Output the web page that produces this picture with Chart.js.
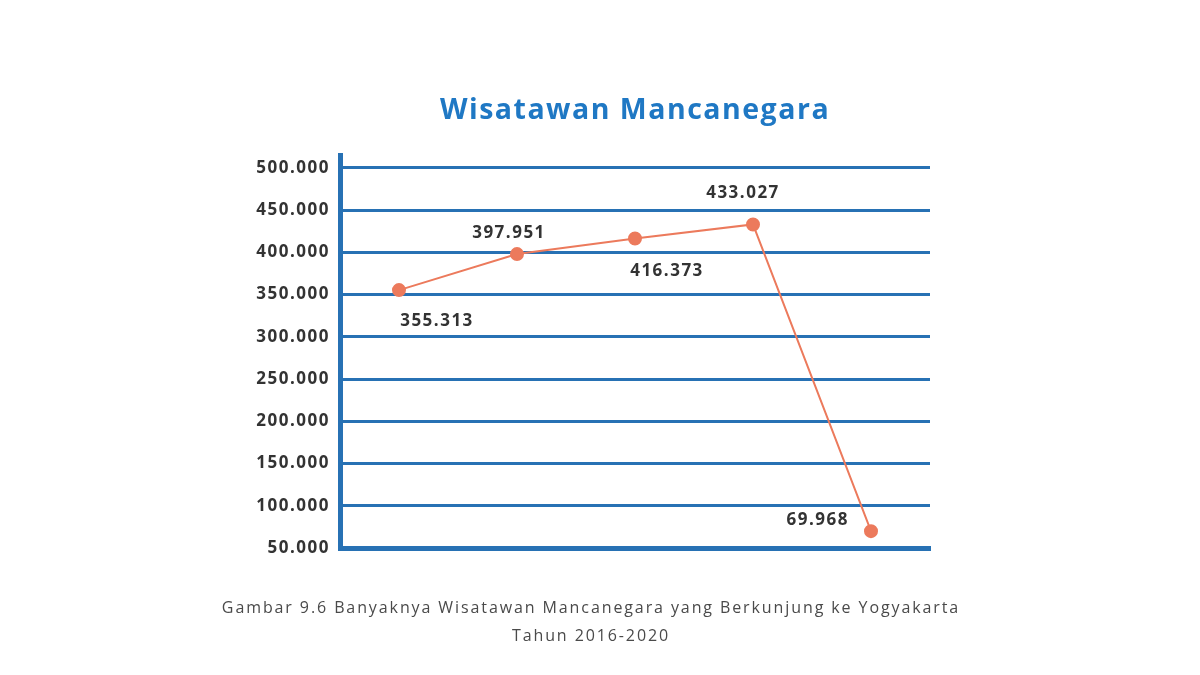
<!DOCTYPE html>
<html>
<head>
<meta charset="utf-8">
<script src="https://cdn.jsdelivr.net/npm/chart.js@4"></script>
<style>
  html, body { margin: 0; padding: 0; background: #fff; }
  #wrap { width: 1200px; height: 675px; }
</style>
</head>
<body>
<div id="wrap"><canvas id="wisatawanChart" width="1200" height="675"></canvas></div>
<script>
const years = ['2016', '2017', '2018', '2019', '2020'];
const visitors = [355313, 397951, 416373, 433027, 69968];
const yTicks = [50000, 100000, 150000, 200000, 250000, 300000, 350000, 400000, 450000, 500000];
const captionLines = ['Gambar 9.6 Banyaknya Wisatawan Mancanegara yang Berkunjung ke Yogyakarta', 'Tahun 2016-2020'];

const BLUE = '#2771b4';
const ORANGE = '#ec7a5c';

const fmt = v => v.toLocaleString('de-DE');

// the original picture has wide, spaced-out lettering
const wideText = {
    id: 'wideText',
    beforeDraw(chart) { chart.ctx.letterSpacing = '1.5px'; },
    afterDraw(chart) { chart.ctx.letterSpacing = '0px'; }
};

// draws the value next to each point
const pointLabels = {
    id: 'pointLabels',
    afterDatasetsDraw(chart, args, opts) {
        const ctx = chart.ctx;
        const meta = chart.getDatasetMeta(0);
        ctx.save();
        ctx.font = 'bold 17px "Open Sans"';
        ctx.fillStyle = '#333';
        ctx.textBaseline = 'middle';
        meta.data.forEach((pt, i) => {
            const [dx, dy, align] = opts.offsets[i];
            ctx.textAlign = align;
            ctx.fillText(fmt(visitors[i]), pt.x + dx, pt.y + dy);
        });
        ctx.restore();
    }
};

// figure caption under the plot
const caption = {
    id: 'caption',
    afterDraw(chart, args, opts) {
        const ctx = chart.ctx;
        ctx.save();
        ctx.letterSpacing = '1.9px';
        ctx.font = '16px "Open Sans"';
        ctx.fillStyle = '#4a4a4a';
        ctx.textAlign = 'center';
        ctx.textBaseline = 'middle';
        captionLines.forEach((line, i) => {
            ctx.fillText(line, opts.x, chart.chartArea.bottom + opts.top + i * opts.lineHeight);
        });
        ctx.restore();
    }
};

new Chart(document.getElementById('wisatawanChart'), {
    type: 'line',
    data: {
        labels: years,
        datasets: [{
            label: 'Wisatawan Mancanegara',
            data: visitors,
            borderColor: ORANGE,
            backgroundColor: ORANGE,
            borderWidth: 2,
            pointRadius: 6,
            pointHoverRadius: 6,
            tension: 0
        }]
    },
    options: {
        responsive: false,
        animation: false,
        layout: { padding: { top: 93, left: 250, right: 270, bottom: 117 } },
        plugins: {
            legend: { display: false },
            tooltip: { enabled: false },
            title: {
                display: true,
                text: 'Wisatawan Mancanegara',
                fullSize: false,
                color: '#1f78c4',
                font: { family: 'Open Sans', size: 28.5, weight: 'bold' },
                padding: { top: 1, bottom: 27 }
            },
            pointLabels: {
                offsets: [[38, 31, 'center'], [-8, -21, 'center'], [32, 33, 'center'], [-10, -31, 'center'], [-22, -11, 'right']]
            },
            caption: { x: 591, top: 60, lineHeight: 28 }
        },
        scales: {
            x: {
                offset: true,
                grid: { display: false },
                ticks: { display: false },
                border: { display: true, color: BLUE, width: 5 },
                afterFit(scale) { scale.height = 10; }
            },
            y: {
                min: 50000,
                max: 515000,
                afterBuildTicks(scale) { scale.ticks = yTicks.map(v => ({ value: v })); },
                grid: { color: BLUE, lineWidth: 3, drawTicks: false },
                border: { display: true, color: BLUE, width: 5 },
                ticks: {
                    padding: 10,
                    color: '#333',
                    font: { family: 'Open Sans', size: 17, weight: 'bold' },
                    callback: v => fmt(v)
                },
                afterFit(scale) { scale.width = 90; }
            }
        }
    },
    plugins: [wideText, pointLabels, caption]
});
</script>
</body>
</html>
